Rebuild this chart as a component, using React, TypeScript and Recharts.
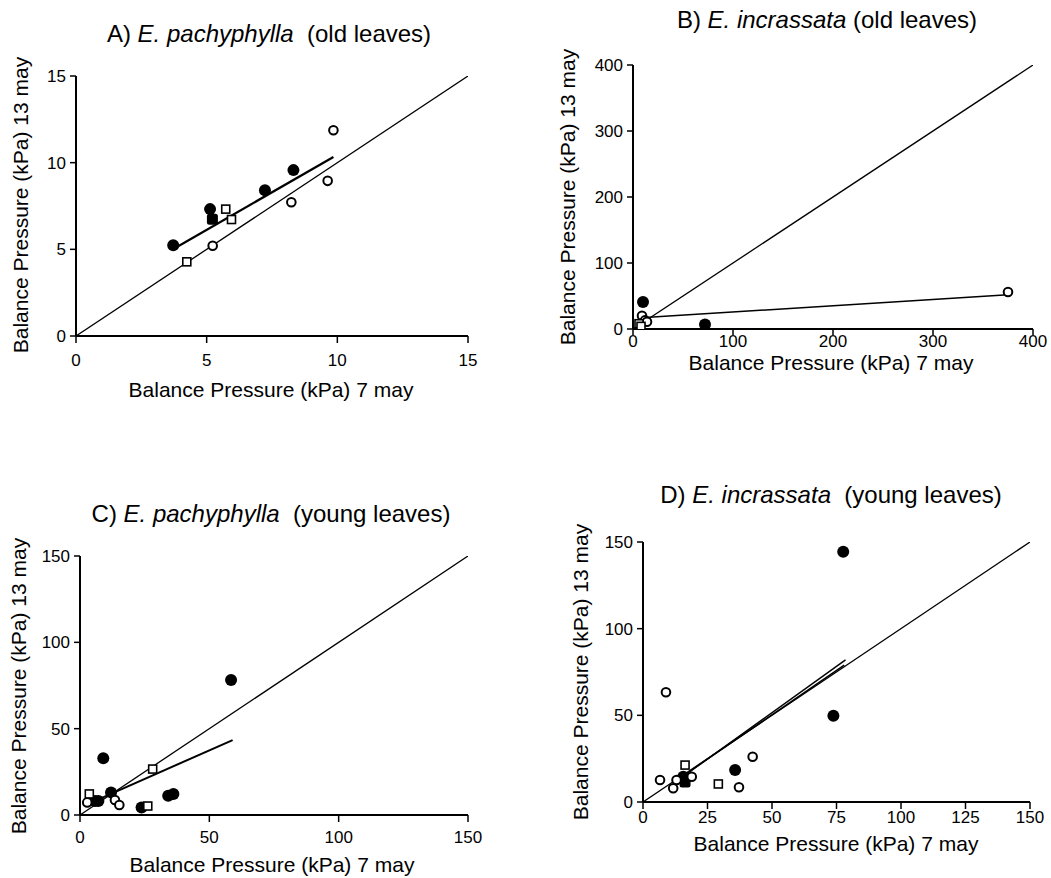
import React from 'react';
import { ScatterChart, Scatter, XAxis, YAxis } from 'recharts';

type Pt = { x: number; y: number };

const FONT = '"Liberation Sans", Arial, Helvetica, sans-serif';

// ---- panel A: E. pachyphylla, old leaves ----
const aFilledCircles: Pt[] = [
  { x: 3.72, y: 5.24 }, { x: 5.13, y: 7.32 }, { x: 7.23, y: 8.41 }, { x: 8.32, y: 9.57 },
];
const aFilledSquares: Pt[] = [{ x: 5.22, y: 6.74 }];
const aOpenCircles: Pt[] = [
  { x: 9.85, y: 11.87 }, { x: 9.63, y: 8.95 }, { x: 8.24, y: 7.72 }, { x: 5.23, y: 5.21 },
];
const aOpenSquares: Pt[] = [{ x: 5.73, y: 7.32 }, { x: 5.95, y: 6.72 }, { x: 4.24, y: 4.28 }];
const aFit: Pt[] = [{ x: 3.76, y: 5.05 }, { x: 9.85, y: 10.33 }];
const aIdentity: Pt[] = [{ x: 0, y: 0 }, { x: 15, y: 15 }];
const aTicks = [0, 5, 10, 15];

// ---- panel B: E. incrassata, old leaves ----
const bFilledCircles: Pt[] = [{ x: 10, y: 41 }, { x: 72, y: 7 }];
const bOpenCircles: Pt[] = [{ x: 375, y: 56 }, { x: 9, y: 20 }, { x: 12, y: 13 }, { x: 14, y: 11 }];
const bOpenSquares: Pt[] = [{ x: 6, y: 8 }, { x: 8, y: 4 }];
const bFit: Pt[] = [{ x: 8, y: 17 }, { x: 375, y: 52 }];
const bIdentity: Pt[] = [{ x: 0, y: 0 }, { x: 400, y: 400 }];
const bTicks = [0, 100, 200, 300, 400];

// ---- panel C: E. pachyphylla, young leaves ----
const cFilledCircles: Pt[] = [
  { x: 58.4, y: 78.2 }, { x: 9, y: 32.8 }, { x: 5.8, y: 8.1 }, { x: 7.1, y: 8.1 },
  { x: 12, y: 13.1 }, { x: 23.8, y: 4.4 }, { x: 34.1, y: 11.2 }, { x: 36.1, y: 12.2 },
];
const cOpenCircles: Pt[] = [{ x: 2.8, y: 7.3 }, { x: 13.5, y: 8.7 }, { x: 15.2, y: 5.8 }];
const cOpenSquares: Pt[] = [{ x: 28.1, y: 26.6 }, { x: 3.6, y: 12.2 }, { x: 26.2, y: 5.2 }];
const cFit: Pt[] = [{ x: 3, y: 6.3 }, { x: 59, y: 43.4 }];
const cIdentity: Pt[] = [{ x: 0, y: 0 }, { x: 150, y: 150 }];
const cTicks = [0, 50, 100, 150];

// ---- panel D: E. incrassata, young leaves ----
const dFilledCircles: Pt[] = [
  { x: 77.6, y: 144.4 }, { x: 73.8, y: 49.8 }, { x: 35.7, y: 18.5 }, { x: 15.6, y: 14.6 },
];
const dFilledSquares: Pt[] = [{ x: 16.3, y: 11.5 }];
const dOpenCircles: Pt[] = [
  { x: 8.9, y: 63.3 }, { x: 42.5, y: 26.1 }, { x: 37.2, y: 8.5 }, { x: 18.9, y: 14.6 },
  { x: 6.6, y: 12.7 }, { x: 11.7, y: 7.9 }, { x: 13, y: 12.7 },
];
const dOpenSquares: Pt[] = [{ x: 29.2, y: 10.4 }, { x: 16.3, y: 21.3 }];
const dFit1: Pt[] = [{ x: 13, y: 12 }, { x: 78.5, y: 82 }];
const dFit2: Pt[] = [{ x: 13, y: 12.5 }, { x: 78, y: 79 }];
const dIdentity: Pt[] = [{ x: 0, y: 0 }, { x: 150, y: 150 }];
const dXTicks = [0, 25, 50, 75, 100, 125, 150];
const dYTicks = [0, 50, 100, 150];

// marker shapes
const filledCircle = (p: any) => <circle cx={p.cx} cy={p.cy} r={6} fill="#000" />;
const filledSquare = (p: any) => (
  <rect x={p.cx - 5.5} y={p.cy - 5.5} width={11} height={11} rx={2.5} fill="#000" />
);
const openCircle = (p: any) => (
  <circle cx={p.cx} cy={p.cy} r={4.3} fill="#fff" stroke="#000" strokeWidth={2} />
);
const openSquare = (p: any) => (
  <rect x={p.cx - 4} y={p.cy - 4} width={8} height={8} fill="#fff" stroke="#000" strokeWidth={1.6} />
);
const noMark = () => <g />;

// tick labels drawn in solid black
const xTick = (p: any) => (
  <text x={p.x} y={p.y} dy="0.71em" textAnchor="middle" fontSize={17} fontFamily={FONT} fill="#000">
    {p.payload.value}
  </text>
);
const yTick = (p: any) => (
  <text x={p.x} y={p.y} dy="0.355em" textAnchor="end" fontSize={17} fontFamily={FONT} fill="#000">
    {p.payload.value}
  </text>
);

const YW = 60;

type PanelProps = {
  box: [number, number, number, number]; // plot left, right, top, bottom in page px
  xMax: number;
  yMax: number;
  xTicks: number[];
  yTicks: number[];
  xTickSize: number;
  xTickGap: number;
  lines: { data: Pt[]; width: number }[];
  filledC?: Pt[];
  filledS?: Pt[];
  openC?: Pt[];
  openS?: Pt[];
};

function Panel({ box, xMax, yMax, xTicks, yTicks, xTickSize, xTickGap, lines, filledC, filledS, openC, openS }: PanelProps) {
  const [l, r, t, b] = box;
  const width = YW + (r - l) + 20;
  const height = 10 + (b - t) + 40;
  return (
    <div style={{ position: 'absolute', left: l - YW, top: t - 10 }}>
      <ScatterChart width={width} height={height} margin={{ top: 10, right: 20, bottom: 0, left: 0 }}>
        <XAxis
          type="number"
          dataKey="x"
          domain={[0, xMax]}
          ticks={xTicks}
          height={40}
          stroke="#000"
          tick={xTick}
          tickSize={xTickSize}
          tickMargin={xTickGap}
          axisLine={{ stroke: '#000', strokeWidth: 2 }}
          tickLine={{ stroke: '#000', strokeWidth: 1.5 }}
          allowDataOverflow
        />
        <YAxis
          type="number"
          dataKey="y"
          domain={[0, yMax]}
          ticks={yTicks}
          width={YW}
          stroke="#000"
          tick={yTick}
          tickSize={6}
          tickMargin={4}
          axisLine={{ stroke: '#000', strokeWidth: 2 }}
          tickLine={{ stroke: '#000', strokeWidth: 1.5 }}
          allowDataOverflow
        />
        {lines.map((ln, i) => (
          <Scatter
            key={'l' + i}
            data={ln.data}
            line={{ stroke: '#000', strokeWidth: ln.width }}
            shape={noMark}
            legendType="none"
            isAnimationActive={false}
          />
        ))}
        {filledC && <Scatter data={filledC} shape={filledCircle} isAnimationActive={false} />}
        {filledS && <Scatter data={filledS} shape={filledSquare} isAnimationActive={false} />}
        {openC && <Scatter data={openC} shape={openCircle} isAnimationActive={false} />}
        {openS && <Scatter data={openS} shape={openSquare} isAnimationActive={false} />}
      </ScatterChart>
    </div>
  );
}

function Title({ x, y, tag, species, rest }: { x: number; y: number; tag: string; species: string; rest: string }) {
  return (
    <text x={x} y={y} textAnchor="middle" fontSize={24} fontFamily={FONT} fill="#000" style={{ whiteSpace: 'pre' }}>
      {tag}
      <tspan fontStyle="italic">{species}</tspan>
      {rest}
    </text>
  );
}

const xTitle = 'Balance Pressure (kPa) 7 may';
const yTitle = 'Balance Pressure (kPa) 13 may';

function XTitle({ x, y }: { x: number; y: number }) {
  return (
    <text x={x} y={y} textAnchor="middle" fontSize={21} fontFamily={FONT} fill="#000">
      {xTitle}
    </text>
  );
}

function YTitle({ x, y }: { x: number; y: number }) {
  return (
    <text x={x} y={y} textAnchor="middle" fontSize={21} fontFamily={FONT} fill="#000" transform={`rotate(-90 ${x} ${y})`}>
      {yTitle}
    </text>
  );
}

export default function App() {
  return (
    <div style={{ position: 'absolute', left: 0, top: 0, width: 1051, height: 878, background: '#fff', overflow: 'hidden' }}>
      <Panel
        box={[76, 468, 76, 336]}
        xMax={15}
        yMax={15}
        xTicks={aTicks}
        yTicks={aTicks}
        xTickSize={7}
        xTickGap={11}
        lines={[{ data: aIdentity, width: 1.3 }, { data: aFit, width: 2.2 }]}
        filledC={aFilledCircles}
        filledS={aFilledSquares}
        openC={aOpenCircles}
        openS={aOpenSquares}
      />
      <Panel
        box={[633, 1033, 65, 329]}
        xMax={400}
        yMax={400}
        xTicks={bTicks}
        yTicks={bTicks}
        xTickSize={6}
        xTickGap={0}
        lines={[{ data: bIdentity, width: 1.3 }, { data: bFit, width: 1.5 }]}
        filledC={bFilledCircles}
        openC={bOpenCircles}
        openS={bOpenSquares}
      />
      <Panel
        box={[80, 468, 556, 815]}
        xMax={150}
        yMax={150}
        xTicks={cTicks}
        yTicks={cTicks}
        xTickSize={7}
        xTickGap={9}
        lines={[{ data: cIdentity, width: 1.3 }, { data: cFit, width: 2 }]}
        filledC={cFilledCircles}
        openC={cOpenCircles}
        openS={cOpenSquares}
      />
      <Panel
        box={[643, 1030, 542, 802]}
        xMax={150}
        yMax={150}
        xTicks={dXTicks}
        yTicks={dYTicks}
        xTickSize={7}
        xTickGap={2}
        lines={[{ data: dIdentity, width: 1.3 }, { data: dFit1, width: 1.5 }, { data: dFit2, width: 1.5 }]}
        filledC={dFilledCircles}
        filledS={dFilledSquares}
        openC={dOpenCircles}
        openS={dOpenSquares}
      />
      <svg width={1051} height={878} style={{ position: 'absolute', left: 0, top: 0, pointerEvents: 'none' }}>
        <Title x={269} y={42} tag="A) " species="E. pachyphylla" rest="  (old leaves)" />
        <Title x={827} y={28} tag="B) " species="E. incrassata" rest=" (old leaves)" />
        <Title x={271} y={522} tag="C) " species="E. pachyphylla" rest="  (young leaves)" />
        <Title x={831} y={503} tag="D) " species="E. incrassata" rest="  (young leaves)" />
        <XTitle x={271} y={397} />
        <XTitle x={831} y={370} />
        <XTitle x={272} y={872} />
        <XTitle x={836} y={851} />
        <YTitle x={28} y={205} />
        <YTitle x={575} y={197} />
        <YTitle x={26} y={686} />
        <YTitle x={588} y={672} />
      </svg>
    </div>
  );
}
